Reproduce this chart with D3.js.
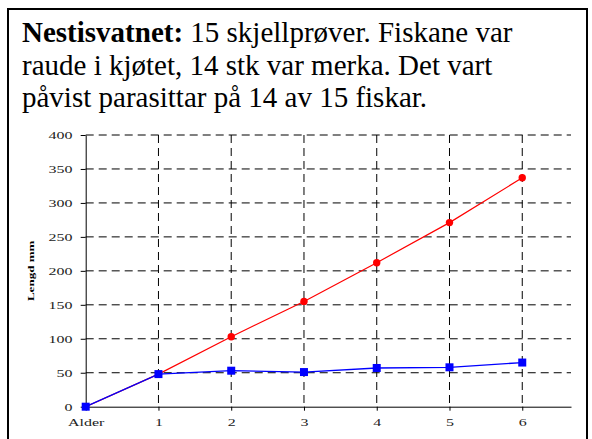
<!DOCTYPE html>
<html><head><meta charset="utf-8">
<script src="https://cdn.jsdelivr.net/npm/d3@7"></script>
<style>body{margin:0;background:#fff}svg{display:block}</style>
</head><body>
<svg id="c" width="592" height="439"></svg>
<script>
const categories = ["Alder","1","2","3","4","5","6"];
const redValues = [0, 48, 103, 155, 212, 271, 337];
const blueValues = [0, 48, 53, 51, 57, 58, 65];
const yTicks = [0,50,100,150,200,250,300,350,400];
const titleLines = [
  [{t:"Nestisvatnet:", b:true},{t:" 15 skjellprøver. Fiskane var", b:false}],
  [{t:"raude i kjøtet, 14 stk var merka. Det vart", b:false}],
  [{t:"påvist parasittar på 14 av 15 fiskar.", b:false}]
];
const yLabel = "Lengd mm";

(function(){
const SERIF = '"Liberation Serif", "Times New Roman", Times, serif';
const SX = 1.45;
const svg = d3.select("#c");
svg.append("rect").attr("x",8).attr("y",9).attr("width",579).attr("height",440)
  .attr("fill","none").attr("stroke","#000").attr("stroke-width",2);

const title = svg.append("text").style("font-family",SERIF)
  .style("font-size","29px").attr("fill","#000");
titleLines.forEach((ln,i)=>{
  const tl = title.append("tspan").attr("x",22).attr("y",42+i*32.5);
  ln.forEach(p=>{ tl.append("tspan").style("font-family",SERIF).style("font-weight",p.b?"bold":"normal").text(p.t); });
});

const pLeft=85.7, pRight=571, pTop=135, pBottom=406.7;
const x = d3.scaleLinear().domain([0,6.67]).range([pLeft,pRight]);
const y = d3.scaleLinear().domain([0,400]).range([pBottom,pTop]);

const g = svg.append("g");
g.selectAll("line.hg").data(yTicks.filter(d=>d>0)).join("line").attr("class","hg")
  .attr("x1",pLeft).attr("x2",pRight).attr("y1",d=>y(d)).attr("y2",d=>y(d))
  .attr("stroke","#000").attr("stroke-width",1).attr("stroke-dasharray","8,5");
g.selectAll("line.vg").data(d3.range(1,categories.length)).join("line").attr("class","vg")
  .attr("x1",d=>x(d)).attr("x2",d=>x(d)).attr("y1",pTop).attr("y2",pBottom)
  .attr("stroke","#000").attr("stroke-width",1).attr("stroke-dasharray","8,5");

const yAxis = d3.axisLeft(y).tickValues(yTicks).tickSize(5).tickPadding(4.2).tickSizeOuter(0);
const ya = svg.append("g").attr("transform",`translate(${pLeft},0)`).call(yAxis);
ya.select(".domain").attr("stroke","#000");
ya.selectAll("text").style("font-family",SERIF).style("font-size","11px").attr("fill","#222")
  .attr("transform",`scale(${SX},1)`);

const xAxis = d3.axisBottom(x).tickValues(d3.range(categories.length)).tickFormat(i=>categories[i]).tickSize(4).tickPadding(7).tickSizeOuter(0);
const xa = svg.append("g").attr("transform",`translate(0,${pBottom})`).call(xAxis);
xa.select(".domain").attr("stroke","#000");
xa.selectAll("text").style("font-family",SERIF).style("font-size","11px").attr("fill","#222")
  .attr("transform",`scale(${SX},1)`);

svg.append("text").attr("transform",`translate(34,${(pTop+pBottom)/2}) rotate(-90) scale(${SX},1)`)
  .attr("text-anchor","middle").style("font-family",SERIF).style("font-weight","bold")
  .style("font-size","9px").text(yLabel);

const line = d3.line().x((d,i)=>x(i)).y(d=>y(d));
svg.append("path").datum(redValues).attr("d",line).attr("fill","none").attr("stroke","#f00").attr("stroke-width",1.2);
const redPts = redValues.map((v,i)=>({v,i})).filter(d=>d.i>0);
svg.selectAll("circle.r").data(redPts).join("circle").attr("class","r")
  .attr("cx",d=>x(d.i)).attr("cy",d=>y(d.v)).attr("r",3.7).attr("fill","#f00");
svg.append("path").datum(blueValues).attr("d",line).attr("fill","none").attr("stroke","#00f").attr("stroke-width",1.3);
svg.selectAll("rect.b").data(blueValues).join("rect").attr("class","b")
  .attr("x",(d,i)=>x(i)-4).attr("y",d=>y(d)-4).attr("width",8).attr("height",8).attr("fill","#00f");
})();
</script>
</body></html>
